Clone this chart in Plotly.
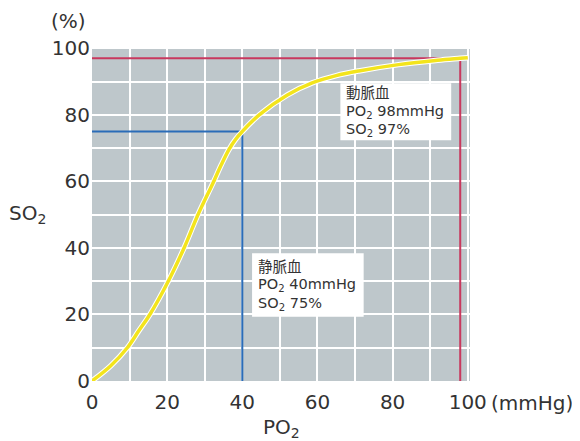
import plotly.graph_objects as go

# ---- data ----
po2 = [0, 5, 9.4, 12.4, 15.4, 20.3, 24.5, 28.2, 32.4, 34.4, 36.4, 38.2, 40, 44.5, 52, 58.6, 65, 71, 81.6, 92, 98, 100]
so2 = [0, 4.6, 10, 15, 20, 30, 40, 50, 60, 65, 69.5, 72.6, 75, 80, 86, 89.6, 91.8, 93.2, 95.1, 96.4, 97, 97.2]

arterial = {"po2": 98, "so2": 97}
venous = {"po2": 40, "so2": 75}

x_ticks = [0, 20, 40, 60, 80, 100]
y_ticks = [0, 20, 40, 60, 80, 100]

RED = "#c8385e"
BLUE = "#2a6cb8"
YELLOW = "#f3e41c"
BG = "#bec7cb"
TXT = "#333333"
FONT = "DejaVu Sans, Liberation Sans, sans-serif"
BOXFONT = "DejaVu Sans, Noto Sans CJK JP, sans-serif"

fig = go.Figure()

# reference lines
fig.add_trace(go.Scatter(x=[0, 100], y=[arterial["so2"], arterial["so2"]], mode="lines",
                         line=dict(color=RED, width=2), hoverinfo="skip"))
fig.add_trace(go.Scatter(x=[arterial["po2"], arterial["po2"]], y=[arterial["so2"], 0], mode="lines",
                         line=dict(color=RED, width=2), hoverinfo="skip"))
fig.add_trace(go.Scatter(x=[0, venous["po2"], venous["po2"]], y=[venous["so2"], venous["so2"], 0], mode="lines",
                         line=dict(color=BLUE, width=2), hoverinfo="skip"))

# curve (white halo + yellow)
fig.add_trace(go.Scatter(x=po2, y=so2, mode="lines",
                         line=dict(color="white", width=5.5, shape="spline", smoothing=1.0),
                         hoverinfo="skip"))
fig.add_trace(go.Scatter(x=po2, y=so2, mode="lines",
                         line=dict(color=YELLOW, width=3.5, shape="spline", smoothing=1.0)))

TICKFONT = dict(family=FONT, size=20, color=TXT)

fig.update_layout(
    width=572, height=433,
    margin=dict(l=84, r=110, t=39, b=60, autoexpand=False),
    paper_bgcolor="white", plot_bgcolor=BG,
    showlegend=False,
    font=dict(family=FONT, color=TXT, size=20),
    xaxis=dict(range=[0, 100.6], tickvals=x_ticks, ticktext=[str(v) for v in x_ticks],
               showgrid=True, gridcolor="white", gridwidth=2, automargin=False,
               minor=dict(dtick=10, showgrid=True, gridcolor="white", gridwidth=2),
               zeroline=False, showline=False, ticks="", ticklabelstandoff=7,
               tickfont=TICKFONT, fixedrange=True),
    yaxis=dict(range=[0, 100.4], tickvals=y_ticks, ticktext=[str(v) for v in y_ticks],
               showgrid=True, gridcolor="white", gridwidth=2, automargin=False,
               minor=dict(dtick=10, showgrid=True, gridcolor="white", gridwidth=2),
               zeroline=False, showline=False, ticks="", ticklabelstandoff=1,
               tickfont=TICKFONT, fixedrange=True),
)

# axis unit labels
fig.add_annotation(text="(mmHg)", xref="paper", yref="paper", x=1.0, y=0, xshift=19, yshift=-22,
                   xanchor="left", yanchor="middle", showarrow=False, font=TICKFONT)
fig.add_annotation(text="(%)", xref="paper", yref="paper", x=0, y=1, xshift=-4, yshift=26,
                   xanchor="right", yanchor="middle", showarrow=False, font=TICKFONT)
fig.add_annotation(text="SO<sub>2</sub>", xref="paper", yref="paper", x=0, y=0.5, xshift=-44,
                   xanchor="right", yanchor="middle", showarrow=False, font=TICKFONT)
fig.add_annotation(text="PO<sub>2</sub>", xref="paper", yref="paper", x=0.5, y=0, yshift=-47,
                   xanchor="center", yanchor="middle", showarrow=False, font=TICKFONT)

# info boxes (white panels + text lines)
boxes = [
    dict(x0=66.1, x1=95.6, y0=72.4, y1=89.5, first=10,
         lines=["動脈血", f"PO<sub>2</sub> {arterial['po2']}mmHg", f"SO<sub>2</sub> {arterial['so2']}%"]),
    dict(x0=42.6, x1=72.3, y0=19.3, y1=38.4, first=13.5,
         lines=["静脈血", f"PO<sub>2</sub> {venous['po2']}mmHg", f"SO<sub>2</sub> {venous['so2']}%"]),
]
for b in boxes:
    fig.add_shape(type="rect", x0=b["x0"], x1=b["x1"], y0=b["y0"], y1=b["y1"],
                  fillcolor="white", line=dict(width=0), layer="above")
    for i, line in enumerate(b["lines"]):
        fig.add_annotation(text=line, x=b["x0"], y=b["y1"], xshift=4, yshift=-(b["first"] + 18.5 * i),
                           xanchor="left", yanchor="middle", showarrow=False, align="left",
                           font=dict(family=BOXFONT, size=14.5, color=TXT))

fig.write_html("out.html")
